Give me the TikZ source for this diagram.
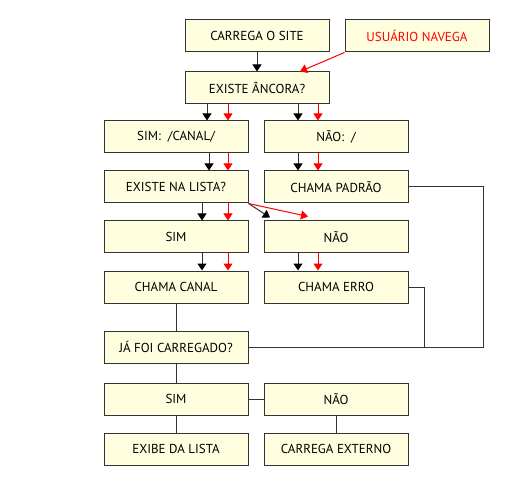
\documentclass[tikz,border=0pt]{standalone}
\usepackage{fontspec}
\setmainfont{PT Sans}
\usetikzlibrary{arrows.meta}
\definecolor{caixa}{HTML}{FFFFE0}
\definecolor{borda}{HTML}{333333}

\begin{document}
\begin{tikzpicture}[x=1pt,y=-1pt,
    passo/.style={draw=borda,fill=caixa,line width=1pt,minimum width=144pt,
      minimum height=32pt,inner sep=0pt,font=\fontsize{13}{15}\selectfont},
    seta/.style={draw=borda,line width=1pt,-{Triangle[length=7pt,width=9pt,color=black]}},
    setav/.style={draw=red,line width=1pt,-{Triangle[length=7pt,width=9pt]}},
    liga/.style={draw=borda,line width=1pt}]
        \useasboundingbox (0,0) rectangle (520,500);
        % coluna do meio
        \node[passo] (site) at (257,36) {CARREGA O SITE};
        \node[passo,text=red] (navega) at (417,36) {USUÁRIO NAVEGA};
        \node[passo] (ancora) at (257,88) {EXISTE ÂNCORA?};
        % esquerda e direita
        \node[passo] (simcanal) at (176,137) {SIM:\ \ /CANAL/};
        \node[passo] (naobarra) at (336,137) {NÃO:\ \ /};
        \node[passo] (lista) at (176,187) {EXISTE NA LISTA?};
        \node[passo] (padrao) at (336,187) {CHAMA PADRÃO};
        \node[passo] (simlista) at (176,237) {SIM};
        \node[passo] (naolista) at (336,237) {NÃO};
        \node[passo] (canal) at (176,287) {CHAMA CANAL};
        \node[passo] (erro) at (336,287) {CHAMA ERRO};
        \node[passo] (carregado) at (176,347) {JÁ FOI CARREGADO?};
        \node[passo] (simcarr) at (176,399) {SIM};
        \node[passo] (naocarr) at (336,399) {NÃO};
        \node[passo] (exibe) at (176,449) {EXIBE DA LISTA};
        \node[passo] (externo) at (336,449) {CARREGA EXTERNO};
        \coordinate (canto) at (483,347);

        \draw[seta] (site.south) -- (ancora.north);
        \draw[setav] (navega.south west) -- ([xshift=43pt]ancora.north);

        \draw[seta] ([xshift=-50pt]ancora.south) -- ([xshift=31pt]simcanal.north);
        \draw[setav] ([xshift=-29pt]ancora.south) -- ([xshift=52pt]simcanal.north);
        \draw[seta] ([xshift=41pt]ancora.south) -- ([xshift=-38pt]naobarra.north);
        \draw[setav] ([xshift=61pt]ancora.south) -- ([xshift=-18pt]naobarra.north);

        \draw[seta] ([xshift=33pt]simcanal.south) -- ([xshift=33pt]lista.north);
        \draw[setav] ([xshift=52pt]simcanal.south) -- ([xshift=52pt]lista.north);
        \draw[seta] ([xshift=-38pt]naobarra.south) -- ([xshift=-38pt]padrao.north);
        \draw[setav] ([xshift=-18pt]naobarra.south) -- ([xshift=-18pt]padrao.north);

        \draw[seta] ([xshift=26pt]lista.south) -- ([xshift=26pt]simlista.north);
        \draw[setav] ([xshift=52pt]lista.south) -- ([xshift=52pt]simlista.north);
        \draw[seta] (lista.south east) -- ([xshift=-66pt,yshift=3pt]naolista.north);
        \draw[setav] (lista.south east) -- ([xshift=-28pt,yshift=4pt]naolista.north);

        \draw[seta] ([xshift=26pt]simlista.south) -- ([xshift=26pt]canal.north);
        \draw[setav] ([xshift=52pt]simlista.south) -- ([xshift=52pt]canal.north);
        \draw[seta] ([xshift=-38pt]naolista.south) -- ([xshift=-38pt]erro.north);
        \draw[setav] ([xshift=-18pt]naolista.south) -- ([xshift=-18pt]erro.north);

        % linhas sem seta
        \draw[liga] (canal.south) -- (carregado.north);
        \draw[liga] (padrao.east) -| (canto) -- (carregado.east);
        \draw[liga] (erro.east) -| (424,347);
        \draw[liga] (carregado.south) -- (simcarr.north);
        \draw[liga] (simcarr.east) -- (naocarr.west);
        \draw[liga] (simcarr.south) -- (exibe.north);
        \draw[liga] (naocarr.south) -- (externo.north);
\end{tikzpicture}
\end{document}
